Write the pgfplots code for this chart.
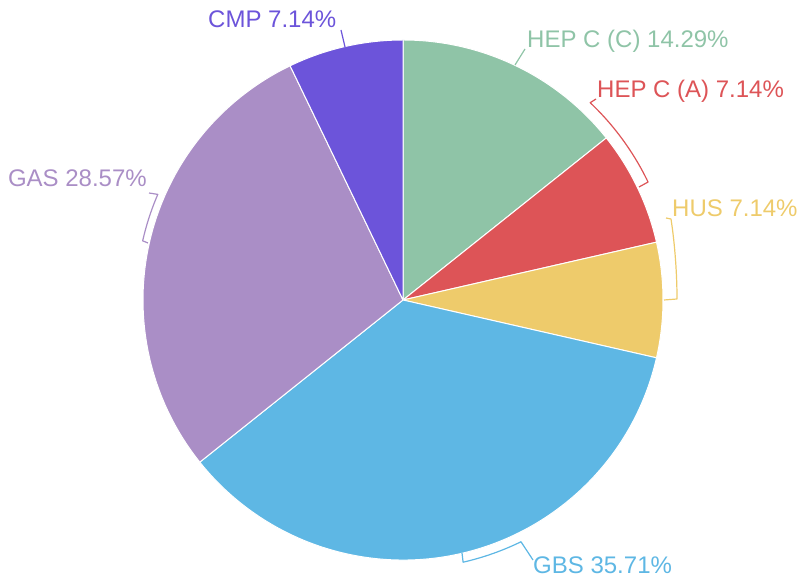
\documentclass[border=0pt]{standalone}
\usepackage{pgfplots}
\pgfplotsset{compat=1.18}
\usepackage{fontspec}
\setmainfont{Liberation Sans}
\definecolor{cA}{HTML}{8FC4A7}
\definecolor{cB}{HTML}{DD5457}
\definecolor{cC}{HTML}{EECB6B}
\definecolor{cD}{HTML}{5EB7E4}
\definecolor{cE}{HTML}{AA8EC6}
\definecolor{cF}{HTML}{6C54DA}
% percentages: HEP C (C) 14.29, HEP C (A) 7.14, HUS 7.14, GBS 35.71, GAS 28.57, CMP 7.14
\newcommand\slice[3]{%
  \fill[#3, draw=white, line width=1pt, line join=round]
    (axis cs:403,278) -- ++({90-3.6*(#1)}:260)
    arc[start angle={90-3.6*(#1)}, end angle={90-3.6*(#2)}, radius=260] -- cycle;}
\begin{document}
\begin{tikzpicture}
\begin{axis}[x=1pt, y=1pt, xmin=0, xmax=799, ymin=0, ymax=578,
  hide axis, scale only axis, clip=false]
\path (axis cs:0,0) rectangle (axis cs:799,578);
\slice{0}{14.29}{cA}
\slice{14.29}{21.43}{cB}
\slice{21.43}{28.57}{cC}
\slice{28.57}{64.28}{cD}
\slice{64.28}{92.85}{cE}
\slice{92.85}{100}{cF}
% leader lines
\draw[cA, line width=1.2pt] (axis cs:515,513) -- (axis cs:525,529);
\draw[cB, line width=1.2pt, line join=round] (axis cs:596,479) -- (axis cs:590.2,475.3)
  arc[start angle=46.5, end angle=25.7, radius=272] -- (axis cs:639,391);
\draw[cC, line width=1.2pt, line join=round] (axis cs:666,360) -- (axis cs:671,359)
  .. controls (axis cs:675,333) and (axis cs:677,303) .. (axis cs:677,279) -- (axis cs:664,278);
\draw[cE, line width=1.2pt, line join=round] (axis cs:149,385) -- (axis cs:157.8,383.6)
  arc[start angle=156.7, end angle=167.2, radius=267] -- (axis cs:148,335);
\draw[cD, line width=1.2pt, line join=round] (axis cs:462,25) -- (axis cs:463.1,15.8)
  arc[start angle=-77.1, end angle=-64, radius=269] -- (axis cs:533,18);
\draw[cF, line width=1.2pt] (axis cs:345,531) -- (axis cs:341,548);
% labels
\begin{scope}[every node/.style={inner sep=0pt, font=\fontsize{24}{28}\selectfont}]
\node[cA, anchor=base west] at (axis cs:527,530) {HEP C (C) 14.29\%};
\node[cB, anchor=base west] at (axis cs:597,480) {HEP C (A) 7.14\%};
\node[cC, anchor=base west] at (axis cs:672,361) {HUS 7.14\%};
\node[cE, anchor=base east] at (axis cs:147,391) {GAS 28.57\%};
\node[cF, anchor=base west] at (axis cs:208,550) {CMP 7.14\%};
\node[cD, anchor=base west] at (axis cs:533,4) {GBS 35.71\%};
\end{scope}
\end{axis}
\end{tikzpicture}
\end{document}
